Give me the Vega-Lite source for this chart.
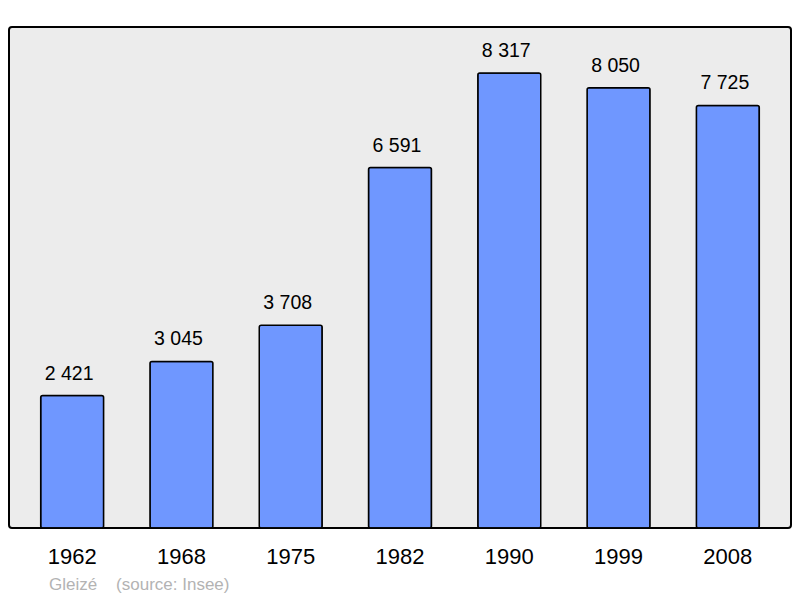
{
  "$schema": "https://vega.github.io/schema/vega-lite/v6.json",
  "width": 782,
  "height": 501,
  "padding": {"left": 9, "top": 27, "right": 9, "bottom": 70},
  "autosize": {"type": "none"},
  "background": "#ffffff",
  "config": {
    "view": {"fill": "#ececec", "stroke": "#000000", "strokeWidth": 2, "cornerRadius": 3},
    "font": "Liberation Sans"
  },
  "title": {
    "text": "Gleizé\u00a0\u00a0\u00a0\u00a0(source: Insee)",
    "orient": "bottom",
    "anchor": "start",
    "dx": 40,
    "offset": 10,
    "fontSize": 17,
    "fontWeight": "normal",
    "color": "#b3b3b3",
    "font": "Liberation Sans"
  },
  "data": {
    "values": [
      {"year": "1962", "pop": 2421, "label": "2 421"},
      {"year": "1968", "pop": 3045, "label": "3 045"},
      {"year": "1975", "pop": 3708, "label": "3 708"},
      {"year": "1982", "pop": 6591, "label": "6 591"},
      {"year": "1990", "pop": 8317, "label": "8 317"},
      {"year": "1999", "pop": 8050, "label": "8 050"},
      {"year": "2008", "pop": 7725, "label": "7 725"}
    ]
  },
  "encoding": {
    "x": {
      "field": "year",
      "type": "ordinal",
      "sort": null,
      "scale": {"paddingInner": 0.424, "paddingOuter": 0.29},
      "axis": {
        "title": null,
        "ticks": false,
        "domain": false,
        "labelAngle": 0,
        "labelFontSize": 22,
        "labelColor": "#000000",
        "labelPadding": 18,
        "labelFont": "Liberation Sans"
      }
    },
    "y": {
      "field": "pop",
      "type": "quantitative",
      "scale": {"domain": [0, 9160], "nice": false},
      "axis": null
    }
  },
  "layer": [
    {
      "mark": {"type": "bar", "fill": "#6f97ff", "stroke": "#000000", "strokeWidth": 1.5, "cornerRadius": 2}
    },
    {
      "mark": {"type": "text", "baseline": "bottom", "dx": -3, "dy": -12, "fontSize": 19.5, "color": "#000000", "font": "Liberation Sans"},
      "encoding": {"text": {"field": "label"}}
    }
  ]
}
